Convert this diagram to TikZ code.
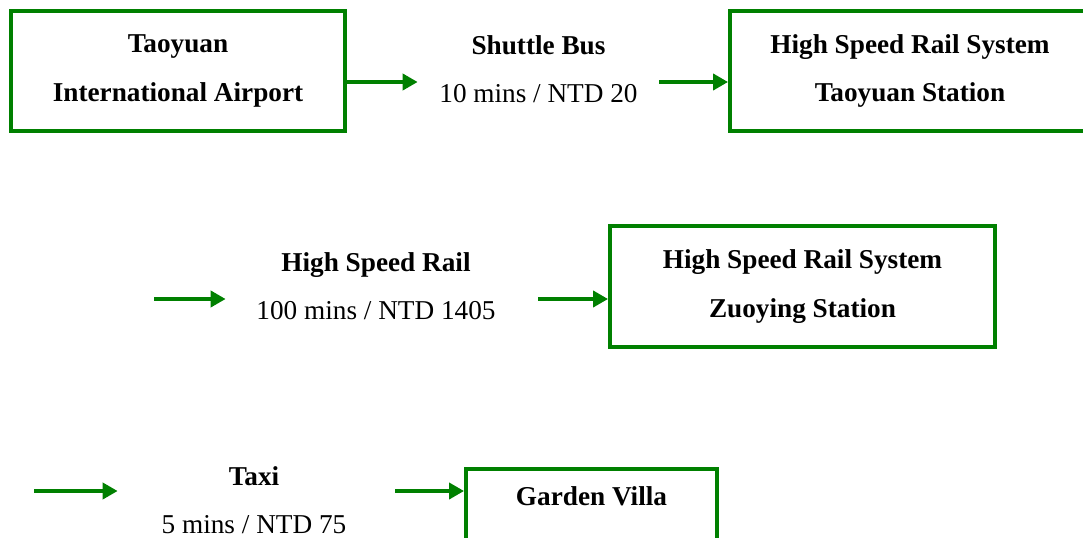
\documentclass[tikz,border=0pt]{standalone}
\usepackage{fontspec}
\setmainfont{Liberation Serif}
\usetikzlibrary{arrows.meta, positioning}
\definecolor{routegreen}{RGB}{0,128,0}

\begin{document}
\begin{tikzpicture}[>={Triangle[length=0.3cm,width=0.32cm]},
    station/.style={draw=routegreen, line width=2.2pt, rectangle, inner sep=0pt, minimum height=2.4cm, align=center, font=\fontsize{15.5}{27.5}\selectfont\bfseries},
    leg/.style={inner sep=0pt, minimum height=1.5cm, align=center, font=\fontsize{15.5}{27.5}\selectfont},
    route/.style={->, line width=2.2pt, routegreen}]

    \useasboundingbox (0,0) rectangle (21.66,-10.74);

    % row 1
    \node[station, minimum width=6.68cm] (airport) at (3.56,-1.42) {Taoyuan\\International Airport};
    \node[leg, minimum width=4.82cm] (bus) at (10.77,-1.38) {\textbf{Shuttle Bus}\\10 mins / NTD 20};
    \node[station, minimum width=7.2cm] (thsr) at (18.2,-1.42) {High Speed Rail System\\Taoyuan Station};
    \coordinate (r1) at (0,-1.64);

    \draw[route] (airport.east |- r1) -- (bus.west |- r1);
    \draw[route] (bus.east |- r1) -- (thsr.west |- r1);

    % row 2
    \coordinate (s2) at (3.08,-5.98);
    \node[leg, minimum width=6.24cm] (hsr) at (7.52,-5.72) {\textbf{High Speed Rail}\\100 mins / NTD 1405};
    \node[station, minimum width=7.7cm, minimum height=2.42cm] (zuoying) at (16.05,-5.73) {High Speed Rail System\\Zuoying Station};

    \draw[route] (s2) -- ([xshift=0.12cm]hsr.west |- s2);
    \draw[route] ([xshift=0.12cm]hsr.east |- s2) -- (zuoying.west |- s2);

    % row 3
    \coordinate (s3) at (0.68,-9.82);
    \node[leg, minimum width=5.54cm] (taxi) at (5.08,-10.01) {\textbf{Taxi}\\5 mins / NTD 75};
    \node[station, anchor=north, minimum width=5.02cm, text height=0.74cm, text depth=1.66cm] (villa) at (11.83,-9.34) {Garden Villa};

    \draw[route] (s3) -- ([xshift=0.05cm]taxi.west |- s3);
    \draw[route] ([xshift=0.05cm]taxi.east |- s3) -- (villa.west |- s3);
\end{tikzpicture}
\end{document}
